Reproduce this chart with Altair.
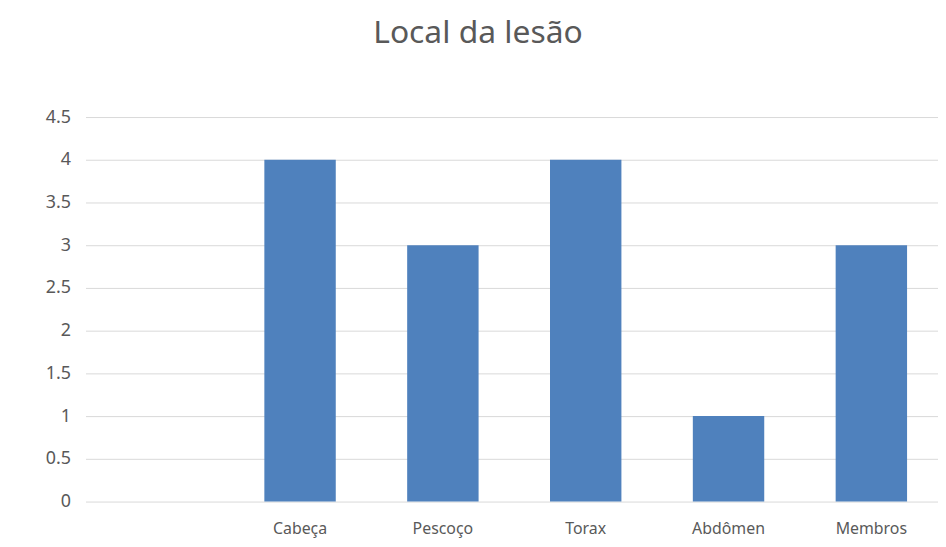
import altair as alt
import pandas as pd

categories = [" ", "Cabeça", "Pescoço", "Torax", "Abdômen", "Membros"]
values = [None, 4, 3, 4, 1, 3]
y_ticks = [0, 0.5, 1, 1.5, 2, 2.5, 3, 3.5, 4, 4.5]

df = pd.DataFrame({"local": categories, "n": values})

font = "Noto Sans"
txt = "#595959"

chart = alt.Chart(df).mark_bar(color="#4F81BD").encode(
    x=alt.X("local:N", sort=categories,
            scale=alt.Scale(domain=categories, paddingInner=0.5, paddingOuter=0.2344, align=0.538),
            axis=alt.Axis(title=None, labelAngle=0, ticks=False, domain=False, labelPadding=19,
                          labelFontSize=16, labelColor=txt, labelFont=font, grid=False)),
    y=alt.Y("n:Q", scale=alt.Scale(domain=[0, 4.5], nice=False),
            axis=alt.Axis(title=None, values=y_ticks, labelExpr="datum.value", ticks=False, domain=False,
                          labelPadding=15, labelFontSize=18, labelColor=txt, labelFont=font,
                          gridColor="#d9d9d9", gridWidth=1)),
).properties(
    width=858, height=387,
    autosize=alt.AutoSizeParams(type="none"),
    padding={"left": 78, "top": 108, "right": 0, "bottom": 44},
    title=alt.TitleParams("Local da lesão", fontSize=32, font=font, color=txt, fontWeight="normal",
                          anchor="middle", offset=59, dx=-34),
).configure_view(stroke=None)

chart.save("out.html", embed_options={"renderer": "svg", "actions": False})
